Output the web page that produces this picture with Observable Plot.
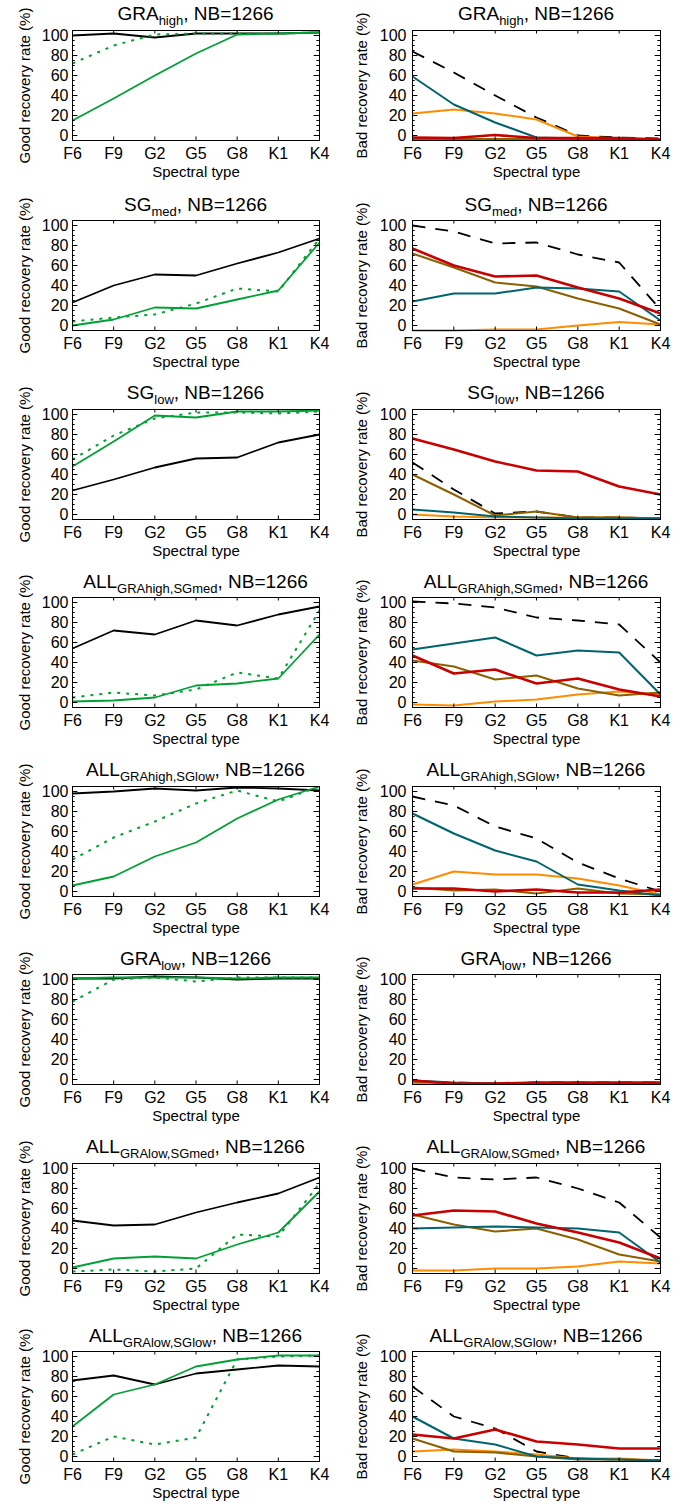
<!DOCTYPE html>
<html>
<head>
<meta charset="utf-8">
<script src="https://cdn.jsdelivr.net/npm/d3@7"></script>
<script src="https://cdn.jsdelivr.net/npm/@observablehq/plot@0.6"></script>
<style>
  html, body { margin: 0; padding: 0; background: white; }
  #root { position: relative; width: 696px; height: 1508px; font-family: "Liberation Sans", Arial, Helvetica, sans-serif; }
  .cell { position: absolute; width: 348px; height: 188.5px; }
  .title { position: absolute; top: 4px; height: 24px; line-height: 24px; text-align: center; font-size: 19px; color: black; white-space: nowrap; }
  .title .sub { font-size: 13px; position: relative; top: 5px; }
  .cell svg { position: absolute; top: 27.5px; left: 0; }
</style>
</head>
<body>
<div id="root"></div>
<script>
const types = ["F6", "F9", "G2", "G5", "G8", "K1", "K4"];
const nb = 1266;
const panelBase = ["GRA", "SG", "SG", "ALL", "ALL", "GRA", "ALL", "ALL"];
const panelSub = ["high", "med", "low", "GRAhigh,SGmed", "GRAhigh,SGlow", "low", "GRAlow,SGmed", "GRAlow,SGlow"];
const yMajor = [0, 20, 40, 60, 80, 100];
const yMinor = [0, 5, 10, 15, 20, 25, 30, 35, 40, 45, 50, 55, 60, 65, 70, 75, 80, 85, 90, 95, 100];
const goodLabel = "Good recovery rate (%)";
const badLabel = "Bad recovery rate (%)";
const xLabel = "Spectral type";

// Good recovery rate panels (left column)
const goodBlack = [
  [100, 102, 98, 102, 102, 102, 103],
  [23, 40, 51, 50, 62, 73, 87],
  [24, 35, 47, 56, 57, 72, 80],
  [54, 72, 68, 82, 77, 88, 96],
  [98, 100, 103, 101, 104, 103, 101],
  [101, 101, 103, 102, 100, 101, 101],
  [48, 43, 44, 56, 66, 75, 91],
  [76, 81, 72, 83, 87, 91, 90]
];
const goodGreen = [
  [15, 37, 60, 82, 101, 102, 103],
  [0, 6, 18, 17, 26, 35, 83],
  [48, 73, 99, 97, 103, 103, 104],
  [1, 2, 5, 17, 19, 24, 68],
  [6, 15, 35, 49, 73, 92, 105],
  [101, 102, 102, 102, 101, 102, 102],
  [1, 10, 12, 10, 24, 36, 77],
  [30, 62, 72, 90, 97, 101, 101]
];
const goodGreenDot = [
  [72, 90, 101, 102, 102, 102, 103],
  [4, 8, 11, 22, 37, 34, 87],
  [55, 79, 96, 102, 102, 101, 103],
  [5, 10, 7, 13, 30, 24, 92],
  [32, 54, 70, 88, 101, 90, 105],
  [78, 100, 102, 98, 102, 102, 102],
  [-3, -1, -3, 0, 34, 32, 85],
  [2, 20, 12, 19, 97, 100, 101]
];

// Bad recovery rate panels (right column)
const badDash = [
  [84, 63, 40, 18, 0, -2, -3],
  [100, 94, 82, 83, 71, 63, 16],
  [52, 25, 1, 3, -3, -3, -4],
  [101, 99, 95, 85, 82, 78, 40],
  [95, 86, 65, 53, 29, 13, 0],
  [-3, -3, -4, -3, -3, -3, -3],
  [100, 91, 89, 91, 80, 66, 31],
  [70, 40, 28, 5, -2, -3, -4]
];
const badTeal = [
  [59, 31, 13, -2, -3, -4, -4],
  [24, 32, 32, 38, 37, 34, 5],
  [5, 2, -2, -3, -4, -4, -4],
  [53, 59, 65, 47, 52, 50, 8],
  [78, 58, 41, 30, 7, 1, -4],
  [-1, -3, -4, -4, -4, -4, -4],
  [40, 41, 42, 41, 40, 36, 6],
  [40, 18, 12, 0, -2, -3, -4]
];
const badOrange = [
  [22, 26, 22, 16, -1, -3, -4],
  [-5, -5, -4, -4, 0, 3.5, 1],
  [0, -2, -3, -3, -3, -3, -4],
  [-2, -3, 1, 3, 8, 11, 8],
  [7, 20, 17, 17, 13, 6, -3],
  [-3, -4, -4, -4, -3, -4, -4],
  [-2, -2, 0, 0, 2, 7, 5],
  [5, 7, 5, 2, -2, -2, -4]
];
const badRed = [
  [-2, -2.5, 0.5, -2.5, -2.5, -2.5, -4],
  [77, 60, 49, 50, 38, 27, 12],
  [76, 65, 53, 44, 43, 28, 20],
  [47, 29, 33, 19, 24, 13, 6],
  [3, 3, 0, 2, -1, -1, 2],
  [-1, -4, -4, -3, -3, -3, -3],
  [53, 58, 57, 45, 36, 26, 10],
  [22, 18, 27, 15, 12, 8, 8]
];
const badBrown = [
  [-3.5, -3.5, -3.5, -3.5, -3.5, -3.5, -4],
  [72, 58, 43, 39, 27, 17, 1],
  [40, 20, -1, 3, -3, -3, -4],
  [42, 36, 23, 27, 14, 7, 10],
  [4, 1, 2, -2, 3, -2, -3],
  [-2, -4, -4, -4, -4, -4, -4],
  [54, 44, 37, 40, 29, 14, 7],
  [18, 5, 4, 0, -3, -3, -4]
];

const COLORS = { black: "#000000", green: "#00a033", teal: "#00646e", orange: "#ff8c00", red: "#c80000", brown: "#8c5f00" };
const FONT = "'Liberation Sans', Arial, Helvetica, sans-serif";
const CELL_W = 348, CELL_H = 188.5;
const xIdx = types.map((t, i) => i);

function frameMarks() {
  return [
    Plot.ruleY(yMajor, {x1: 0, x2: 0.13, stroke: "black", strokeWidth: 1}),
    Plot.ruleY(yMajor, {x1: 6, x2: 5.87, stroke: "black", strokeWidth: 1}),
    Plot.ruleY(yMinor, {x1: 0, x2: 0.065, stroke: "black", strokeWidth: 1}),
    Plot.ruleY(yMinor, {x1: 6, x2: 5.935, stroke: "black", strokeWidth: 1}),
    Plot.ruleX(xIdx, {y1: -5, y2: -1.5, stroke: "black", strokeWidth: 1}),
    Plot.ruleX(xIdx, {y1: 105, y2: 101.5, stroke: "black", strokeWidth: 1}),
    Plot.frame({stroke: "black", strokeWidth: 1})
  ];
}

function lineMark(values, color, width, dash) {
  return Plot.line(values, {
    x: (d, i) => i,
    y: d => d,
    stroke: color,
    strokeWidth: width,
    strokeDasharray: dash,
    strokeLinejoin: "round",
    strokeLinecap: "butt"
  });
}

function makePanel(row, col) {
  const ml = col === 0 ? 72 : 64;
  const mr = col === 0 ? 29 : 36;
  const series = col === 0
    ? [
        lineMark(goodBlack[row], COLORS.black, 1.8, null),
        lineMark(goodGreenDot[row], COLORS.green, 2, "3,6"),
        lineMark(goodGreen[row], COLORS.green, 1.8, null)
      ]
    : [
        lineMark(badDash[row], COLORS.black, 1.8, "13,10"),
        lineMark(badOrange[row], COLORS.orange, 2, null),
        lineMark(badBrown[row], COLORS.brown, 2, null),
        lineMark(badTeal[row], COLORS.teal, 2, null),
        lineMark(badRed[row], COLORS.red, 2.6, null)
      ];
  const svg = Plot.plot({
    width: CELL_W,
    height: 161,
    marginTop: 4,
    marginBottom: 47,
    marginLeft: ml,
    marginRight: mr,
    style: {fontFamily: FONT, fontSize: "16px", color: "black", background: "transparent", overflow: "visible"},
    x: {domain: [0, 6], ticks: 6, tickFormat: i => types[i], tickSize: 0, tickPadding: 7, label: null},
    y: {domain: [-5, 105], ticks: 6, tickSize: 0, tickPadding: col === 0 ? 4 : 6, label: null},
    marks: [
      ...series,
      ...frameMarks(),
      Plot.text([xLabel], {frameAnchor: "bottom", dy: 36, text: d => d, fontSize: 15, fill: "black", textAnchor: "middle"}),
      Plot.text([col === 0 ? goodLabel : badLabel], {frameAnchor: "left", dx: col === 0 ? -47 : -50, rotate: -90, text: d => d, fontSize: 15, fill: "black", textAnchor: "middle"})
    ]
  });

  const cell = document.createElement("div");
  cell.className = "cell";
  cell.style.left = (col * CELL_W) + "px";
  cell.style.top = (row === 0 ? -2 : row * CELL_H) + "px";

  const title = document.createElement("div");
  title.className = "title";
  title.style.left = ml + "px";
  title.style.width = (CELL_W - ml - mr) + "px";
  title.appendChild(document.createTextNode(panelBase[row]));
  const sub = document.createElement("span");
  sub.className = "sub";
  sub.textContent = panelSub[row];
  title.appendChild(sub);
  title.appendChild(document.createTextNode(", NB=" + nb));

  cell.appendChild(title);
  cell.appendChild(svg);
  return cell;
}

const root = document.getElementById("root");
for (let row = 0; row < 8; row++) {
  for (let col = 0; col < 2; col++) {
    root.appendChild(makePanel(row, col));
  }
}
</script>
</body>
</html>
